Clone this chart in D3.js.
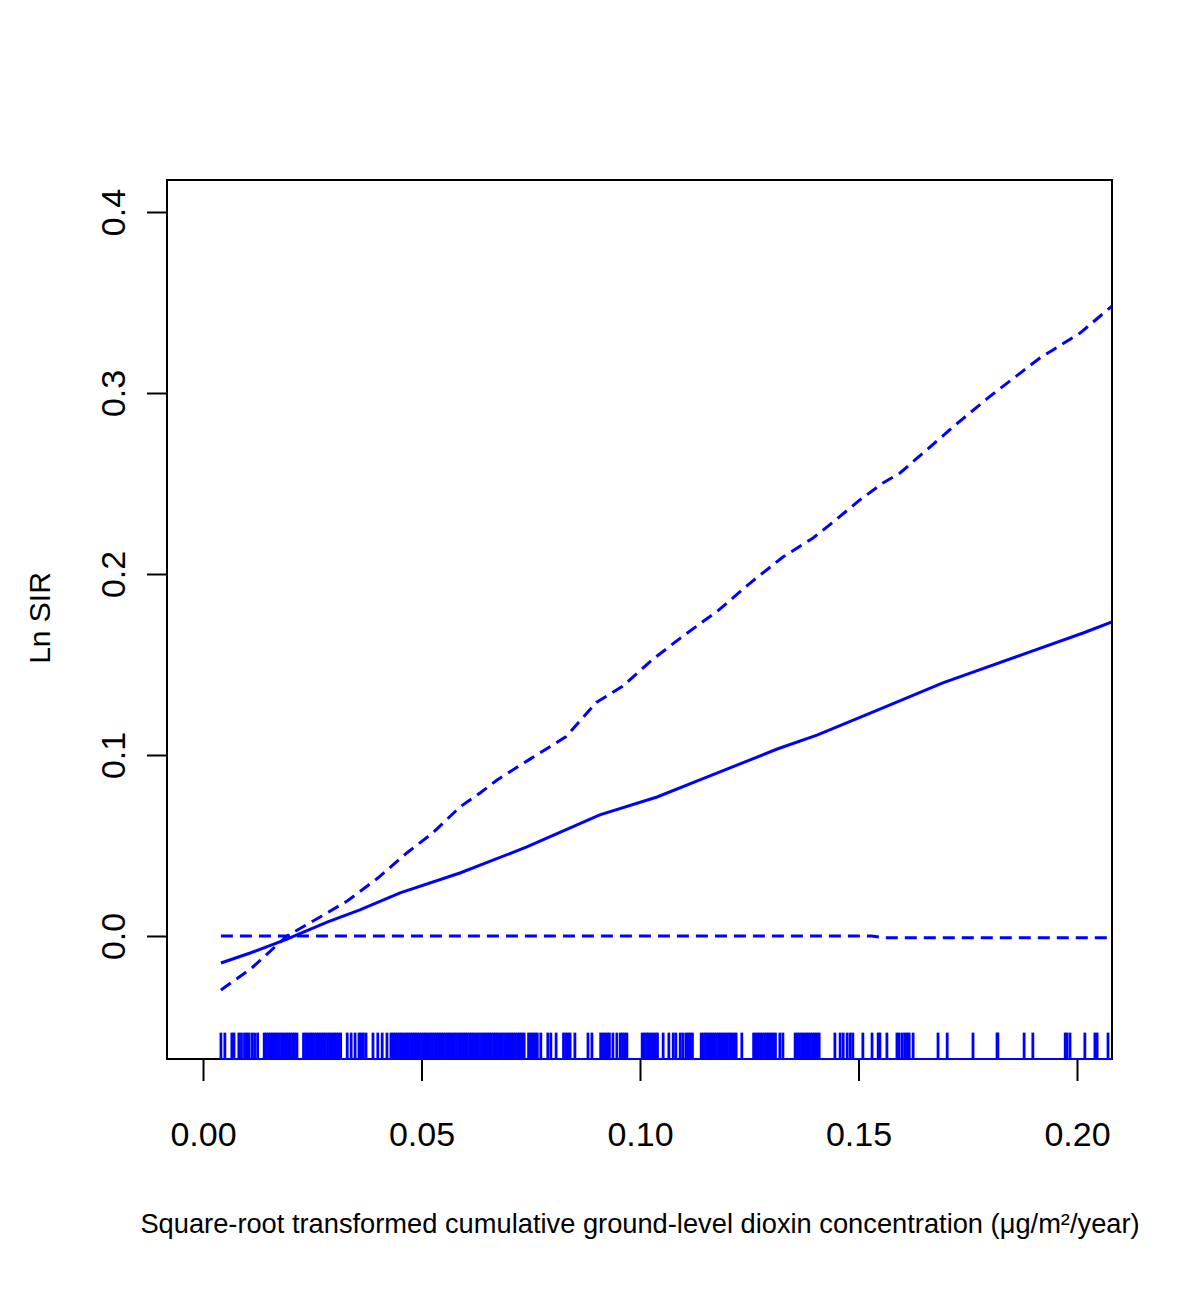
<!DOCTYPE html>
<html>
<head>
<meta charset="utf-8">
<script src="https://cdn.jsdelivr.net/npm/d3@7"></script>
<style>
  body { margin: 0; background: #fff; }
  text { font-family: "Liberation Sans", Arial, Helvetica, sans-serif; }
</style>
</head>
<body>
<div id="chart"></div>
<script>
// fitted curve and pointwise limits (x = sqrt dioxin, y = ln SIR)
const fitX = [0.0041, 0.0108, 0.0192, 0.0284, 0.0359, 0.0451, 0.0588, 0.0741, 0.0908, 0.1039,
  0.1137, 0.1314, 0.1405, 0.1549, 0.1693, 0.1886, 0.2014, 0.2080];
const fitY = [-0.0149, -0.0094, -0.0017, 0.0077, 0.0144, 0.0238, 0.0348, 0.0492, 0.0669, 0.0768,
  0.0862, 0.1033, 0.1110, 0.1254, 0.1398, 0.1564, 0.1674, 0.1735];

const upperX = [0.0041, 0.0110, 0.0192, 0.0268, 0.0330, 0.0400, 0.0467, 0.0526, 0.0588, 0.0634,
  0.0673, 0.0750, 0.0830, 0.0900, 0.0960, 0.1030, 0.1100, 0.1180, 0.1252, 0.1327, 0.1396, 0.1442,
  0.1503, 0.1556, 0.1595, 0.1648, 0.1720, 0.1800, 0.1870, 0.1915, 0.1945, 0.2007, 0.2080];
const upperY = [-0.0298, -0.0180, 0.0000, 0.0105, 0.0193, 0.0320, 0.0460, 0.0570, 0.0713, 0.0790,
  0.0862, 0.0980, 0.1100, 0.1290, 0.1380, 0.1530, 0.1660, 0.1800, 0.1950, 0.2094, 0.2199, 0.2287,
  0.2409, 0.2503, 0.2558, 0.2669, 0.2820, 0.2980, 0.3110, 0.3193, 0.3238, 0.3331, 0.3480];

const lowerX = [0.0041, 0.1530, 0.1560, 0.2080];
const lowerY = [0.0000, 0.0000, -0.0010, -0.0010];

// observed exposure values (rug)
const rugX = [
  0.0041, 0.0050, 0.0066, 0.0071, 0.0082, 0.0088, 0.0095, 0.0100, 0.0105, 0.0112, 0.0118, 0.0125,
  0.0140, 0.0145, 0.0150, 0.0155, 0.0160, 0.0165, 0.0170, 0.0175, 0.0180, 0.0185, 0.0190, 0.0195,
  0.0200, 0.0205, 0.0210, 0.0215,
  0.0230, 0.0235, 0.0240, 0.0245, 0.0250, 0.0255, 0.0260, 0.0265, 0.0270, 0.0275, 0.0280, 0.0285,
  0.0290, 0.0295, 0.0300, 0.0305, 0.0310, 0.0315,
  0.0330, 0.0339, 0.0348, 0.0357, 0.0362, 0.0367, 0.0373,
  0.0389, 0.0400, 0.0410, 0.0421, 0.0430,
  0.0435, 0.0440, 0.0445, 0.0450, 0.0455, 0.0460, 0.0465, 0.0470, 0.0475, 0.0480, 0.0485, 0.0490,
  0.0495, 0.0500, 0.0505, 0.0510, 0.0515, 0.0520, 0.0525, 0.0530, 0.0535, 0.0540, 0.0545, 0.0550,
  0.0555, 0.0560, 0.0565, 0.0570, 0.0575, 0.0580, 0.0585, 0.0590, 0.0595, 0.0600, 0.0605, 0.0610,
  0.0615, 0.0620, 0.0625, 0.0630, 0.0635, 0.0640, 0.0645, 0.0650, 0.0655, 0.0660, 0.0665, 0.0670,
  0.0675, 0.0680, 0.0685, 0.0690, 0.0695, 0.0700, 0.0705, 0.0710, 0.0715, 0.0720, 0.0725, 0.0730,
  0.0735,
  0.0745, 0.0750, 0.0755, 0.0760, 0.0765, 0.0773, 0.0789, 0.0796, 0.0808,
  0.0825, 0.0830, 0.0835, 0.0840, 0.0851, 0.0881, 0.0890,
  0.0910, 0.0915, 0.0920, 0.0925, 0.0930, 0.0938, 0.0947,
  0.0955, 0.0960, 0.0965, 0.0970,
  0.1005, 0.1010, 0.1015, 0.1020, 0.1025, 0.1030, 0.1035, 0.1040,
  0.1053, 0.1066, 0.1076, 0.1082, 0.1092, 0.1098, 0.1105, 0.1110, 0.1115, 0.1120,
  0.1140, 0.1145, 0.1150, 0.1155, 0.1160, 0.1165, 0.1170, 0.1175, 0.1180, 0.1185, 0.1190, 0.1195,
  0.1200, 0.1205, 0.1210, 0.1215, 0.1220, 0.1233,
  0.1260, 0.1265, 0.1270, 0.1275, 0.1280, 0.1285, 0.1290, 0.1295, 0.1300, 0.1305, 0.1310,
  0.1320, 0.1327,
  0.1355, 0.1360, 0.1365, 0.1370, 0.1375, 0.1380, 0.1385, 0.1390, 0.1395, 0.1400, 0.1405, 0.1410,
  0.1446, 0.1458, 0.1465, 0.1474, 0.1481, 0.1487, 0.1510, 0.1531, 0.1545, 0.1549, 0.1565,
  0.1588, 0.1593, 0.1600, 0.1606, 0.1611, 0.1616, 0.1625, 0.1682, 0.1703, 0.1762, 0.1817,
  0.1819, 0.1879, 0.1899, 0.1973, 0.1977, 0.1984, 0.2018, 0.2041, 0.2046, 0.2071
];

const xTicks = [0.00, 0.05, 0.10, 0.15, 0.20];
const yTicks = [0.0, 0.1, 0.2, 0.3, 0.4];

const width = 1200;
const height = 1291;
const margin = { top: 180, right: 88, bottom: 232, left: 167 };
const blue = "#0000ff";

const svg = d3.select("#chart")
  .append("svg")
  .attr("width", width)
  .attr("height", height);

const xScale = d3.scaleLinear()
  .domain([-0.00824, 0.20801])
  .range([margin.left, width - margin.right]);

const yScale = d3.scaleLinear()
  .domain([-0.06796, 0.41768])
  .range([height - margin.bottom, margin.top]);

const plotW = width - margin.left - margin.right;
const plotH = height - margin.top - margin.bottom;

svg.append("clipPath")
  .attr("id", "plot-clip")
  .append("rect")
  .attr("x", margin.left)
  .attr("y", margin.top)
  .attr("width", plotW)
  .attr("height", plotH);

// axes (ticks only, the box gives the lines)
const xAxis = svg.append("g")
  .attr("transform", `translate(0,${height - margin.bottom})`)
  .call(d3.axisBottom(xScale).tickValues(xTicks).tickFormat(d3.format(".2f")).tickSize(22).tickSizeOuter(0));
xAxis.select(".domain").remove();
xAxis.selectAll("line").attr("stroke", "#000").attr("stroke-width", 2);
xAxis.selectAll("text")
  .attr("y", 87)
  .attr("dy", null)
  .attr("fill", "#000")
  .style("font-size", "34px");

const yAxis = svg.append("g")
  .attr("transform", `translate(${margin.left},0)`)
  .call(d3.axisLeft(yScale).tickValues(yTicks).tickFormat(d3.format(".1f")).tickSize(20).tickSizeOuter(0));
yAxis.select(".domain").remove();
yAxis.selectAll("line").attr("stroke", "#000").attr("stroke-width", 2);
yAxis.selectAll("text")
  .attr("x", 0)
  .attr("dy", null)
  .attr("text-anchor", "middle")
  .attr("transform", "translate(-42,0) rotate(-90)")
  .attr("fill", "#000")
  .style("font-size", "34px");

// lines
const plot = svg.append("g").attr("clip-path", "url(#plot-clip)");

const line = d3.line()
  .x(d => xScale(d[0]))
  .y(d => yScale(d[1]));

const series = [
  { x: fitX, y: fitY, dash: null },
  { x: upperX, y: upperY, dash: "12,7" },
  { x: lowerX, y: lowerY, dash: "12,7" }
];

series.forEach(s => {
  plot.append("path")
    .datum(d3.zip(s.x, s.y))
    .attr("fill", "none")
    .attr("stroke", blue)
    .attr("stroke-width", 3)
    .attr("stroke-dasharray", s.dash)
    .attr("d", line);
});

// box
svg.append("rect")
  .attr("x", margin.left)
  .attr("y", margin.top)
  .attr("width", plotW)
  .attr("height", plotH)
  .attr("fill", "none")
  .attr("stroke", "#000")
  .attr("stroke-width", 2);

// rug
const rugTop = yScale.range()[0] - 0.03 * plotH;
svg.append("g")
  .selectAll("line")
  .data(rugX)
  .enter()
  .append("line")
  .attr("x1", d => xScale(d))
  .attr("x2", d => xScale(d))
  .attr("y1", yScale.range()[0])
  .attr("y2", rugTop)
  .attr("stroke", blue)
  .attr("stroke-width", 2.8);

svg.append("line")
  .attr("x1", xScale(d3.min(rugX)))
  .attr("x2", xScale.range()[1])
  .attr("y1", yScale.range()[0])
  .attr("y2", yScale.range()[0])
  .attr("stroke", blue)
  .attr("stroke-width", 2);

// axis titles
const xTitle = svg.append("text")
  .attr("x", 640)
  .attr("y", 1233)
  .attr("text-anchor", "middle")
  .style("font-size", "30px")
  .text("Square-root transformed cumulative ground-level dioxin concentration (μg/m²/year)");
// fit the title to the width it has in the original
const natural = xTitle.node().getComputedTextLength();
xTitle.style("font-size", `${30 * 1000 / natural}px`);

svg.append("text")
  .attr("transform", "rotate(-90)")
  .attr("x", -618)
  .attr("y", 50)
  .attr("text-anchor", "middle")
  .style("font-size", "30px")
  .text("Ln SIR");
</script>
</body>
</html>
